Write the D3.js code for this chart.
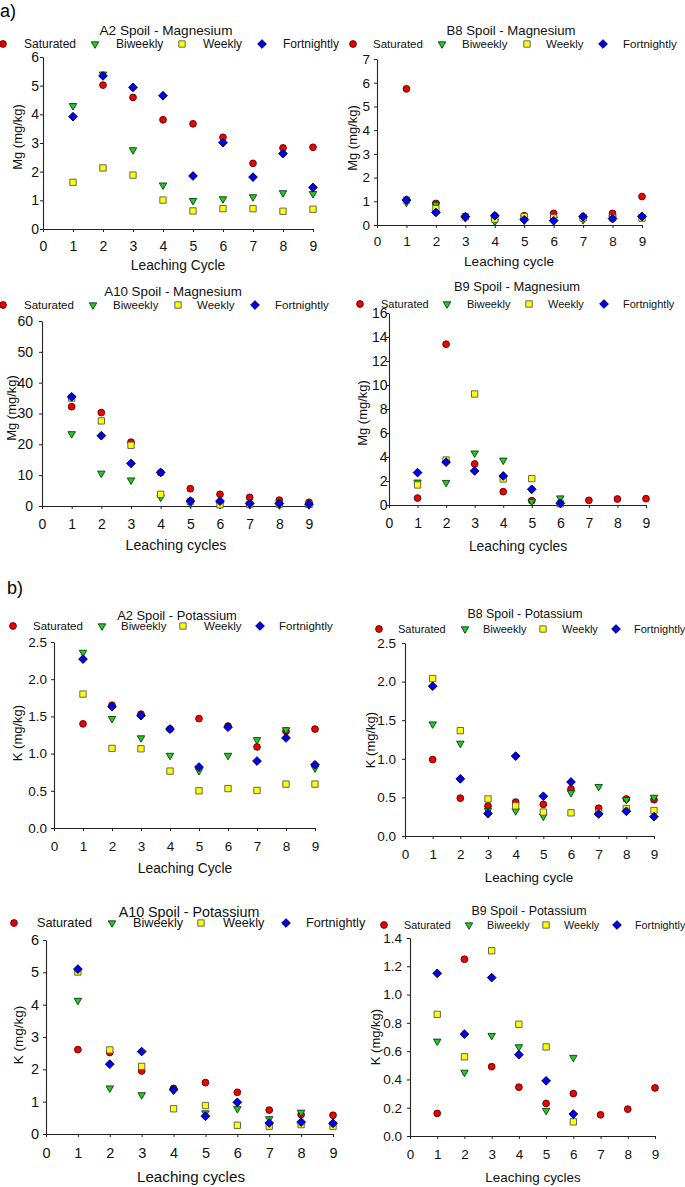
<!DOCTYPE html>
<html><head><meta charset="utf-8">
<script src="https://cdn.jsdelivr.net/npm/d3@7"></script>
<style>
html,body{margin:0;padding:0;background:#fff;}
svg{display:block;font-family:"Liberation Sans",Arial,sans-serif;}
</style></head>
<body><svg id="chart" width="685" height="1187"></svg>
<script>
// ---------- data ----------
const cycles = [1,2,3,4,5,6,7,8,9];
const seriesNames = ["Saturated","Biweekly","Weekly","Fortnightly"];
const xTicks = [0,1,2,3,4,5,6,7,8,9];

// [Saturated, Biweekly, Weekly, Fortnightly], per leaching cycle 1..9
const A2_Mg = [
  [null,5.02,4.59,3.81,3.67,3.20,2.29,2.83,2.85],
  [4.30,5.40,2.76,1.53,0.99,1.05,1.12,1.26,1.23],
  [1.63,2.13,1.88,1.01,0.63,0.71,0.71,0.62,0.69],
  [3.92,5.34,4.94,4.65,1.85,3.01,1.81,2.63,1.45]
];
const B8_Mg = [
  [5.74,0.91,0.35,0.38,0.39,0.49,0.35,0.49,1.20],
  [0.95,0.87,0.30,0.14,0.20,0.25,0.22,0.30,0.33],
  [1.05,0.69,0.35,0.25,0.35,0.30,0.30,0.30,0.29],
  [1.05,0.53,0.35,0.39,0.22,0.18,0.35,0.27,0.36]
];
const A10_Mg = [
  [32.2,30.3,20.7,10.8,5.6,3.8,2.8,1.9,1.2],
  [23.4,10.6,8.4,2.8,0.8,0.5,0.4,0.3,0.3],
  [35.0,27.6,19.7,3.8,1.5,0.4,0.5,0.6,0.5],
  [35.4,22.8,13.8,10.9,1.6,1.6,0.8,0.8,0.6]
];
const B9_Mg = [
  [0.58,13.4,3.42,1.11,0.36,null,0.39,0.50,0.53],
  [1.90,1.87,4.32,3.73,0.30,0.58,null,null,null],
  [1.67,3.75,9.25,2.17,2.20,0.10,null,null,null],
  [2.70,3.57,2.84,2.42,1.31,0.14,null,null,null]
];
const A2_K = [
  [1.40,1.65,1.53,1.33,1.47,1.37,1.09,1.30,1.33],
  [2.36,1.47,1.21,0.975,0.77,0.975,1.185,1.32,0.805],
  [1.80,1.07,1.065,0.765,0.50,0.53,0.505,0.59,0.59],
  [2.27,1.63,1.51,1.33,0.82,1.355,0.90,1.21,0.85]
];
const B8_K = [
  [0.99,0.49,0.39,0.44,0.41,0.61,0.36,0.48,0.47],
  [1.45,1.20,0.33,0.325,0.255,0.56,0.64,0.47,0.50],
  [2.04,1.365,0.48,0.39,0.31,0.30,0.30,0.355,0.33],
  [1.94,0.74,0.29,1.035,0.515,0.70,0.285,0.32,0.25]
];
const A10_K = [
  [2.61,2.52,1.95,1.41,1.59,1.29,0.74,0.60,0.58],
  [4.13,1.42,1.21,1.35,0.65,0.78,0.47,0.67,0.30],
  [5.01,2.60,2.09,0.78,0.88,0.27,0.24,0.29,0.24],
  [5.10,2.16,2.55,1.37,0.55,0.98,0.34,0.37,0.33]
];
const B9_K = [
  [0.16,1.25,0.49,0.345,0.23,0.30,0.15,0.19,0.34],
  [0.67,0.45,0.71,0.63,0.18,0.555,null,null,null],
  [0.86,0.56,1.31,0.79,0.63,0.10,null,null,null],
  [1.15,0.72,1.12,0.575,0.39,0.155,null,null,null]
];

const titles = ["A2 Spoil - Magnesium","B8 Spoil - Magnesium","A10 Spoil - Magnesium","B9 Spoil - Magnesium",
                "A2 Spoil - Potassium","B8 Spoil - Potassium","A10 Spoil - Potassium","B9 Spoil - Potassium"];
const xTitles = ["Leaching Cycle","Leaching cycle","Leaching cycles","Leaching cycles",
                 "Leaching Cycle","Leaching cycle","Leaching cycles","Leaching cycles"];
const yTitles = ["Mg (mg/kg)","Mg (mg/kg)","Mg (mg/kg)","Mg (mg/kg)","K (mg/kg)","K (mg/kg)","K (mg/kg)","K (mg/kg)"];
const yTicksList = [
  [0,1,2,3,4,5,6],[0,1,2,3,4,5,6,7],[0,10,20,30,40,50,60],[0,2,4,6,8,10,12,14,16],
  [0,0.5,1,1.5,2,2.5],[0,0.5,1,1.5,2,2.5],[0,1,2,3,4,5,6],[0,0.2,0.4,0.6,0.8,1,1.2,1.4]
];
const yFormats = ["d","d","d","d",".1f",".1f","d",".1f"];
const datasets = [A2_Mg,B8_Mg,A10_Mg,B9_Mg,A2_K,B8_K,A10_K,B9_K];

// ---------- layout / style ----------
const layout = [
  {l:43,r:313,t:57,b:229, tx:166,ty:30,tfs:13.6, ly:44,lm:[3,95,182,262],lt:[24,116,203,283],lfs:12,
   tickCY:246,tkfs:14,yGap:4, xtx:178,xty:265,xtfs:13.8, ytx:17,yty:137,ytfs:13},
  {l:377,r:642,t:59,b:225, tx:511,ty:30,tfs:13.2, ly:44,lm:[353,442,527,603],lt:[373,462,546,623],lfs:11.5,
   tickCY:241,tkfs:13.5,yGap:7, xtx:509,xty:261,xtfs:13.6, ytx:352,yty:138,ytfs:13},
  {l:42,r:309,t:321,b:506, tx:173,ty:291,tfs:13.3, ly:305,lm:[3,93,178,255],lt:[24,113,197,275],lfs:11.5,
   tickCY:524,tkfs:14,yGap:9, xtx:176,xty:545,xtfs:14.2, ytx:11,yty:408,ytfs:13},
  {l:389,r:646,t:313,b:505, tx:517,ty:286,tfs:12.9, ly:304,lm:[360,447,529,604],lt:[381,467,548,623],lfs:11,
   tickCY:523,tkfs:14,yGap:1.5, xtx:518,xty:546,xtfs:13.8, ytx:362,yty:413,ytfs:13},
  {l:54,r:315,t:642,b:828, tx:177,ty:615,tfs:12.9, ly:626,lm:[13,102,183,260],lt:[33,121,204,279],lfs:11.5,
   tickCY:846,tkfs:13.5,yGap:7, xtx:185,xty:868,xtfs:13.8, ytx:17,yty:733,ytfs:13},
  {l:405,r:654,t:643,b:836, tx:525,ty:614,tfs:12.4, ly:629,lm:[379,465,543,616],lt:[398,483,562,634],lfs:11,
   tickCY:854,tkfs:13.5,yGap:9, xtx:529,xty:877,xtfs:13.4, ytx:370,yty:740,ytfs:13},
  {l:46,r:333,t:940,b:1134, tx:189,ty:912,tfs:14.3, ly:923,lm:[14,112,201,286],lt:[37,133,223,306],lfs:12.7,
   tickCY:1153,tkfs:14.5,yGap:7, xtx:191,xty:1177,xtfs:15.2, ytx:18,yty:1035,ytfs:13.5},
  {l:410,r:655,t:938,b:1136, tx:529,ty:911,tfs:12.4, ly:925,lm:[384,469,546,617],lt:[404,487,564,635],lfs:10.8,
   tickCY:1154,tkfs:13.5,yGap:8, xtx:533,xty:1177,xtfs:13.4, ytx:375,yty:1037,ytfs:13}
];
const fills = ["#ee0000","#22cc22","#ffff00","#0000ee"];
const strokes = ["#5a0000","#0a3a0a","#555555","#00003a"];
const symbols = [
  {type:d3.symbolCircle,size:36,rot:0},
  {type:d3.symbolTriangle,size:24,rot:180},
  {type:d3.symbolSquare,size:40,rot:0},
  {type:d3.symbolSquare,size:38,rot:45}
];

const svg = d3.select("#chart");
svg.append("text").attr("x",0).attr("y",11).attr("dy","0.35em").attr("font-size",18).attr("fill","#000").text("a)");
svg.append("text").attr("x",7).attr("y",588).attr("dy","0.35em").attr("font-size",18).attr("fill","#000").text("b)");

datasets.forEach((data,i)=>{
  const L = layout[i];
  const yT = yTicksList[i];
  const x = d3.scaleLinear().domain([0,9]).range([L.l,L.r]);
  const y = d3.scaleLinear().domain([0,d3.max(yT)]).range([L.b,L.t]);
  const g = svg.append("g");
  const tickSize = 3;

  const xa = g.append("g").attr("transform",`translate(0,${L.b})`)
    .call(d3.axisBottom(x).tickValues(xTicks).tickFormat(d3.format("d")).tickSizeInner(tickSize).tickSizeOuter(0)
      .tickPadding(L.tickCY - L.b - 0.352*L.tkfs - tickSize));
  const ya = g.append("g").attr("transform",`translate(${L.l},0)`)
    .call(d3.axisLeft(y).tickValues(yT).tickFormat(d3.format(yFormats[i])).tickSizeInner(tickSize).tickSizeOuter(0)
      .tickPadding(L.yGap - tickSize));
  [xa,ya].forEach(a=>{
    a.select(".domain").attr("stroke","#222").attr("stroke-width",1.1);
    a.selectAll(".tick line").attr("stroke","#222");
    a.selectAll(".tick text").attr("font-size",L.tkfs).attr("fill","#111").attr("font-family","Liberation Sans, Arial, sans-serif");
  });

  // titles
  g.append("text").attr("x",L.tx).attr("y",L.ty).attr("dy","0.35em").attr("text-anchor","middle")
    .attr("font-size",L.tfs).attr("fill","#111").text(titles[i]);
  g.append("text").attr("x",L.xtx).attr("y",L.xty).attr("dy","0.35em").attr("text-anchor","middle")
    .attr("font-size",L.xtfs).attr("fill","#111").text(xTitles[i]);
  g.append("text").attr("transform",`translate(${L.ytx},${L.yty}) rotate(-90)`).attr("dy","0.35em").attr("text-anchor","middle")
    .attr("font-size",L.ytfs).attr("fill","#111").text(yTitles[i]);

  // legend
  seriesNames.forEach((name,s)=>{
    const sy = symbols[s];
    g.append("path").attr("d",d3.symbol(sy.type,sy.size)())
      .attr("transform",`translate(${L.lm[s]},${L.ly}) rotate(${sy.rot})`)
      .attr("fill",fills[s]).attr("stroke",strokes[s]).attr("stroke-width",0.9);
    g.append("text").attr("x",L.lt[s]).attr("y",L.ly).attr("dy","0.35em")
      .attr("font-size",L.lfs).attr("fill","#111").text(name);
  });

  // points
  data.forEach((vals,s)=>{
    const sy = symbols[s];
    const pts = cycles.map((c,k)=>({c,v:vals[k]})).filter(d=>d.v!=null);
    g.append("g").selectAll("path").data(pts).join("path")
      .attr("d",d3.symbol(sy.type,sy.size)())
      .attr("transform",d=>`translate(${x(d.c)},${y(d.v)}) rotate(${sy.rot})`)
      .attr("fill",fills[s]).attr("stroke",strokes[s]).attr("stroke-width",0.9);
  });
});
</script></body></html>
